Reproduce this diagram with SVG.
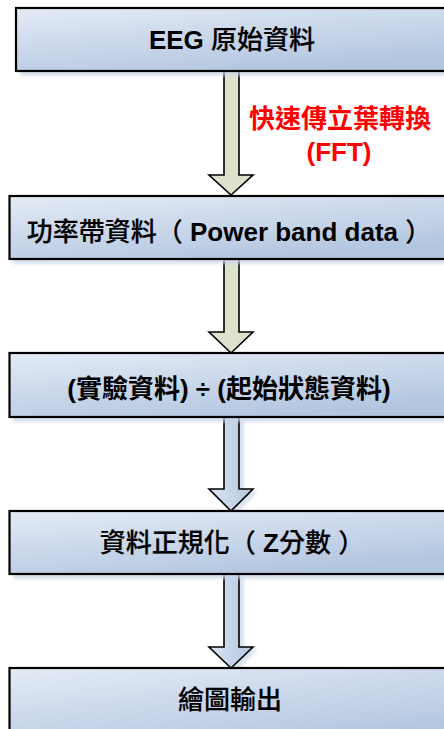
<svg xmlns="http://www.w3.org/2000/svg" width="444" height="729" viewBox="0 0 444 729">
<defs>
<linearGradient id="boxg" x1="0" y1="0" x2="0.55" y2="1">
<stop offset="0" stop-color="#e4ebf6"/>
<stop offset="1" stop-color="#b3c6e0"/>
</linearGradient>
<linearGradient id="arrg" x1="0" y1="0" x2="1" y2="0">
<stop offset="0" stop-color="#dbe4f2"/>
<stop offset="1" stop-color="#b3c6e0"/>
</linearGradient>
<filter id="sh" x="-10%" y="-20%" width="130%" height="160%">
<feGaussianBlur stdDeviation="1.5"/>
</filter>
<style>
.box{fill:url(#boxg);stroke:#000;stroke-width:2.2}
.shadow{fill:#c9d6ea;opacity:0.7;filter:url(#sh)}
.t{font-family:"Liberation Sans","Noto Sans CJK TC",sans-serif;font-size:26px;font-weight:500;fill:#000;text-anchor:middle;stroke:#000;stroke-width:0.2;white-space:pre}
.b{font-weight:bold;stroke-width:0}
.red{fill:#ff0000;stroke:#ff0000;font-weight:bold;stroke-width:0}
.ag{fill:#dde2cc;stroke:#000;stroke-width:1.6;stroke-linejoin:miter}
.ab{fill:url(#arrg);stroke:#000;stroke-width:1.6;stroke-linejoin:miter}
</style>
</defs>

<g id="connectors">
<path class="shadow" d="M229,420 H244 V492 H258 L236,514 L214,492 H229 Z"/>
<path class="shadow" d="M229,577 H244 V650 H258 L236,671 L214,650 H229 Z"/>
<path class="ag" d="M224,71 H239 V175 H253 L231,195 L209,175 H224 Z"/>
<path class="ag" d="M224,259 H239 V332 H253 L231,353 L209,332 H224 Z"/>
<path class="ab" d="M224,417 H239 V489 H253 L231,511 L209,489 H224 Z"/>
<path class="ab" d="M224,574 H239 V647 H253 L231,668 L209,647 H224 Z"/>
<text class="t red" x="340" y="128" font-size="25">快速傳立葉轉換</text>
<text class="t red" x="339" y="161" font-size="25">(FFT)</text>
</g>

<g id="n1">
<rect class="shadow" x="20" y="12" width="440" height="64"/>
<rect class="box" x="16" y="8" width="440" height="63"/>
<text class="t" x="232" y="49"><tspan class="b">EEG</tspan> 原始資料</text>
</g>

<g id="n2">
<rect class="shadow" x="13" y="200" width="440" height="64"/>
<rect class="box" x="9.5" y="196" width="440" height="63"/>
<text class="t" x="229" y="241">功率帶資料（<tspan class="b"> Power band data </tspan>）</text>
</g>

<g id="n3">
<rect class="shadow" x="13" y="357" width="440" height="65"/>
<rect class="box" x="9.5" y="353" width="440" height="64"/>
<text class="t b" x="229" y="398">(實驗資料) ÷ (起始狀態資料)</text>
</g>

<g id="n4">
<rect class="shadow" x="13" y="515" width="440" height="64"/>
<rect class="box" x="9.5" y="511" width="440" height="63"/>
<text class="t" x="232" y="552">資料正規化（<tspan class="b"> Z</tspan>分數 ）</text>
</g>

<g id="n5">
<rect class="box" x="9.5" y="668" width="440" height="80"/>
<text class="t" x="230" y="709">繪圖輸出</text>
</g>
</svg>
